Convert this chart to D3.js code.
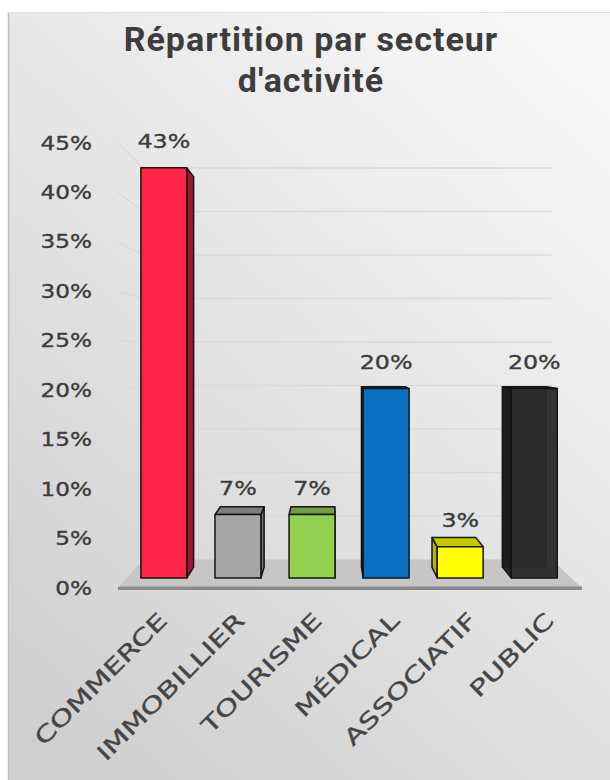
<!DOCTYPE html>
<html><head><meta charset="utf-8">
<script src="https://cdn.jsdelivr.net/npm/d3@7/dist/d3.min.js"></script>
<style>body{margin:0;background:#fff}svg{display:block}</style>
</head><body><svg id="c" width="610" height="780"></svg>
<script>
// ---- data ----
const categories = ["COMMERCE", "IMMOBILLIER", "TOURISME", "MÉDICAL", "ASSOCIATIF", "PUBLIC"];
const values = [0.433, 0.067, 0.067, 0.20, 0.033, 0.20];
const yTicks = [0, 0.05, 0.10, 0.15, 0.20, 0.25, 0.30, 0.35, 0.40, 0.45];
const titleLines = ["Répartition par secteur", "d'activité"];
const frontColors = ["#ff2446", "#a6a6a6", "#92d050", "#0a70c4", "#ffff00", "#2a2a2a"];
const sideColors  = ["#a0172d", "#6e6e6e", "#5f8c33", "#064f8c", "#b4b400", "#1c1c1c"];
const topColors   = ["#c01c36", "#7d7d7d", "#6f9f3f", "#085a9e", "#c8c800", "#222222"];

const svg = d3.select("#c");
const W = 610, H = 780;

// background
const defs = svg.append("defs");
const grad = defs.append("linearGradient").attr("id", "bg")
  .attr("x1", "0.85").attr("y1", "0").attr("x2", "0.15").attr("y2", "1");
grad.append("stop").attr("offset", "0").attr("stop-color", "#f8f8f8");
grad.append("stop").attr("offset", "1").attr("stop-color", "#cfcfcf");
svg.append("rect").attr("width", W).attr("height", H).attr("fill", "#fff");
svg.append("rect").attr("x", 8).attr("y", 12).attr("width", W - 8).attr("height", H - 12).attr("fill", "url(#bg)");
svg.append("line").attr("x1", 8.5).attr("x2", 8.5).attr("y1", 12).attr("y2", H).attr("stroke", "#bdbdbd").attr("stroke-width", 1.5);
svg.append("line").attr("x1", 8).attr("x2", W).attr("y1", 12.5).attr("y2", 12.5).attr("stroke", "#e2e2e2").attr("stroke-width", 1);

// title
svg.append("g").selectAll("text").data(titleLines).join("text")
  .attr("x", 311).attr("y", (d, i) => 51 + i * 40.5)
  .attr("text-anchor", "middle")
  .attr("font-family", "Roboto, sans-serif").attr("font-weight", 700)
  .attr("font-size", 34).attr("letter-spacing", 1).attr("fill", "#3d3d3d")
  .text(d => d);

// ---- scales (front plane) & perspective ----
const x = d3.scaleBand().domain(categories).range([118, 582]).paddingInner(0.38).paddingOuter(0.19);
const y = d3.scaleLinear().domain([0, 0.45]).range([588, 143]);
const vp = { x: 328, y: 351 };
const S_WALL = 0.88, S_BF = 0.958, S_BB = 0.912;
const P = (xf, yf, s) => [vp.x + (xf - vp.x) * s, vp.y + (yf - vp.y) * s];
const x0 = x.range()[0], x1 = x.range()[1];

// gridlines (back wall + left wall)
const grid = svg.append("g").attr("stroke", "#dadada").attr("stroke-width", 1.4).attr("fill", "none");
yTicks.filter(t => t > 0).forEach(t => {
  const a = P(x0, y(t), S_WALL), b = P(x1, y(t), S_WALL), f = P(x0, y(t), 1);
  grid.append("line").attr("x1", a[0]).attr("y1", a[1]).attr("x2", b[0]).attr("y2", b[1]);
  grid.append("line").attr("x1", f[0]).attr("y1", f[1]).attr("x2", a[0]).attr("y2", a[1]);
});

// floor
const fl = [P(x0, y(0), 1), P(x1, y(0), 1), P(x1, y(0), S_WALL), P(x0, y(0), S_WALL)];
svg.append("polygon").attr("points", fl.map(p => p.join(",")).join(" ")).attr("fill", "#c6c6c6");
svg.append("rect").attr("x", x0).attr("y", y(0) - 1.5).attr("width", x1 - x0).attr("height", 3.5).attr("fill", "#8a8a8a");

// bars
const poly = pts => pts.map(p => p.join(",")).join(" ");
const bars = svg.append("g").attr("stroke", "#141414").attr("stroke-width", 1.5).attr("stroke-linejoin", "round");
categories.forEach((c, i) => {
  const v = values[i];
  const a = x(c), b = x(c) + x.bandwidth();
  const yt = y(v), yb = y(0);
  const F = (xx, yy) => P(xx, yy, S_BF), B = (xx, yy) => P(xx, yy, S_BB);
  const g = bars.append("g");
  const transparent = i === 5;
  const op = transparent ? 0.94 : 1;
  if (transparent) {
    g.append("polygon").attr("points", poly([B(a, yt), B(b, yt), B(b, yb), B(a, yb)]))
      .attr("fill", sideColors[i]).attr("fill-opacity", op);
  }
  const cx = (a + b) / 2;
  const sx = cx < vp.x ? b : a;
  g.append("polygon").attr("points", poly([F(sx, yt), F(sx, yb), B(sx, yb), B(sx, yt)]))
    .attr("fill", sideColors[i]).attr("fill-opacity", op);
  if (yt > vp.y) {
    g.append("polygon").attr("points", poly([F(a, yt), F(b, yt), B(b, yt), B(a, yt)]))
      .attr("fill", topColors[i]).attr("fill-opacity", op);
  }
  const p0 = F(a, yt), p1 = F(b, yb);
  g.append("rect").attr("x", p0[0]).attr("y", p0[1]).attr("width", p1[0] - p0[0]).attr("height", p1[1] - p0[1])
    .attr("fill", frontColors[i]).attr("fill-opacity", transparent ? 0.95 : 1);
});

// value labels
const fmt = d3.format(".0%");
const txtFont = "'DejaVu Sans', sans-serif";
svg.append("g").selectAll("text").data(categories).join("text")
  .attr("transform", (c, i) => {
    const p = P(x(c) + x.bandwidth() / 2, y(values[i]), S_BF);
    return `translate(${p[0]},${p[1] - 20}) scale(1.25,1)`;
  })
  .attr("text-anchor", "middle").attr("font-family", txtFont).attr("font-size", 19)
  .attr("fill", "#3c3c3c").attr("stroke", "#3c3c3c").attr("stroke-width", 0.35)
  .text((c, i) => fmt(values[i]));

// y axis labels
const yAxis = d3.axisLeft(y).tickValues(yTicks).tickFormat(fmt).tickSize(0).tickPadding(0);
const ya = svg.append("g").attr("transform", "translate(92,0)").call(yAxis);
ya.select(".domain").remove();
ya.selectAll("text").attr("font-family", txtFont).attr("font-size", 19)
  .attr("fill", "#3c3c3c").attr("stroke", "#3c3c3c").attr("stroke-width", 0.35)
  .attr("transform", "scale(1.22,1)");

// category labels
svg.append("g").selectAll("text").data(categories).join("text")
  .attr("transform", c => `translate(${x(c) + x.bandwidth() / 2 + 12},622) rotate(-45) scale(1.38,1)`)
  .attr("text-anchor", "end").attr("font-family", txtFont).attr("font-size", 22)
  .attr("fill", "#454545").attr("stroke", "#454545").attr("stroke-width", 0.3)
  .text(c => c);
</script></body></html>
